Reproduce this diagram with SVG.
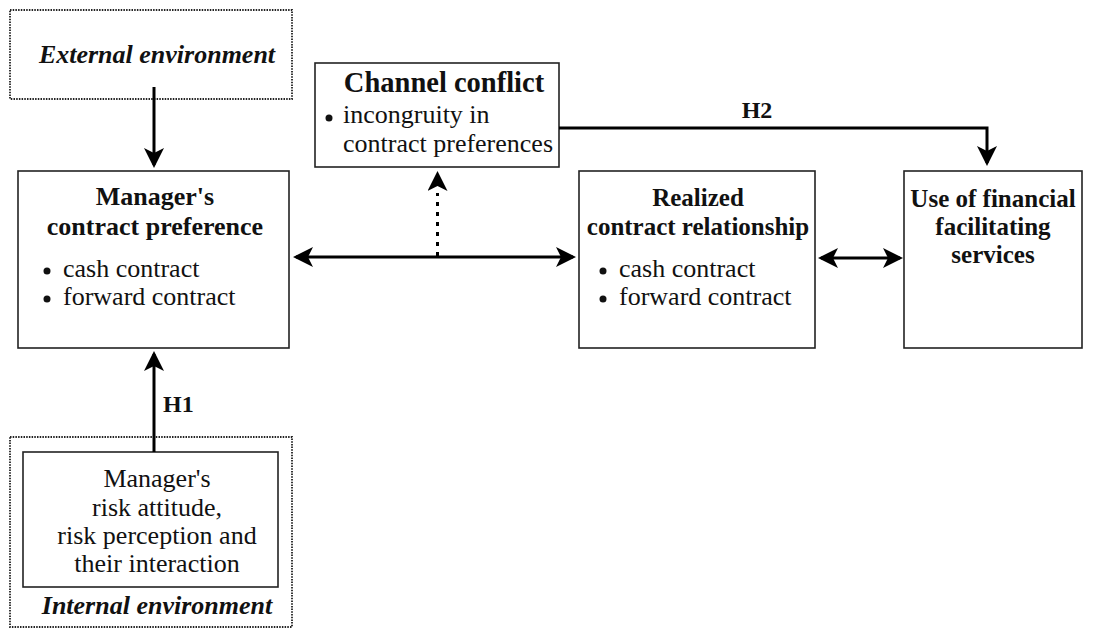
<svg xmlns="http://www.w3.org/2000/svg" width="1109" height="628" viewBox="0 0 1109 628">
<style>
.box{fill:#fff;stroke:#222;stroke-width:1.6}
.dot{fill:none;stroke:#222;stroke-width:1.8;stroke-dasharray:1.5 1.2}
.bt{font-family:"Liberation Serif","Times New Roman",serif;font-weight:bold;font-size:25px;fill:#111;text-anchor:middle}
.rt{font-family:"Liberation Serif","Times New Roman",serif;font-size:26px;fill:#111}
.env{font-family:"Liberation Serif","Times New Roman",serif;font-weight:bold;font-style:italic;font-size:26px;fill:#111;text-anchor:middle}
.lbl{font-family:"Liberation Serif","Times New Roman",serif;font-weight:bold;font-size:24px;fill:#111}
.con{fill:none;stroke:#000;stroke-width:3}
</style>
<defs>
<marker id="ah" viewBox="0 0 20 20" refX="17" refY="10" markerWidth="20" markerHeight="20" markerUnits="userSpaceOnUse" orient="auto-start-reverse">
<path d="M0,0 L20,10 L0,20 L5,10 z" fill="#000"/>
</marker>
</defs>

<g id="external">
<rect class="dot" x="10" y="10" width="282" height="89"/>
<text class="env" x="157" y="63">External environment</text>
</g>

<g id="manager-pref">
<rect class="box" x="18" y="171" width="271" height="177"/>
<text class="bt" x="155" y="205" style="font-size:26px">Manager's</text>
<text class="bt" x="155" y="235" style="font-size:26px">contract preference</text>
<circle cx="47" cy="271" r="3.5" fill="#111"/>
<text class="rt" x="63" y="277">cash contract</text>
<circle cx="47" cy="299" r="3.5" fill="#111"/>
<text class="rt" x="63" y="305">forward contract</text>
</g>

<g id="channel-conflict">
<rect class="box" x="315" y="63" width="244" height="104"/>
<text class="bt" x="444" y="92" style="font-size:28.5px">Channel conflict</text>
<circle cx="329" cy="118" r="3.5" fill="#111"/>
<text class="rt" x="343" y="123">incongruity in</text>
<text class="rt" x="343" y="152">contract preferences</text>
</g>

<g id="realized">
<rect class="box" x="579" y="171" width="236" height="177"/>
<text class="bt" x="698" y="206">Realized</text>
<text class="bt" x="698" y="235">contract relationship</text>
<circle cx="603" cy="271" r="3.5" fill="#111"/>
<text class="rt" x="619" y="277">cash contract</text>
<circle cx="603" cy="299" r="3.5" fill="#111"/>
<text class="rt" x="619" y="305">forward contract</text>
</g>

<g id="financial">
<rect class="box" x="904" y="171" width="178" height="177"/>
<text class="bt" x="993" y="207">Use of financial</text>
<text class="bt" x="993" y="235">facilitating</text>
<text class="bt" x="993" y="263">services</text>
</g>

<g id="internal">
<rect class="dot" x="10" y="437" width="282" height="190"/>
<rect class="box" x="23" y="452" width="255" height="135"/>
<text class="rt" x="157" y="487" text-anchor="middle">Manager's</text>
<text class="rt" x="157" y="516" text-anchor="middle">risk attitude,</text>
<text class="rt" x="157" y="544" text-anchor="middle">risk perception and</text>
<text class="rt" x="157" y="572" text-anchor="middle">their interaction</text>
<text class="env" x="157" y="614">Internal environment</text>
</g>

<g id="connectors">
<line class="con" x1="154" y1="87" x2="154" y2="165" marker-end="url(#ah)"/>
<line class="con" x1="154" y1="452" x2="154" y2="354" marker-end="url(#ah)"/>
<line class="con" x1="296" y1="257" x2="573" y2="257" marker-start="url(#ah)" marker-end="url(#ah)"/>
<line class="con" x1="437.5" y1="256" x2="437.5" y2="193" stroke-dasharray="4 6"/>
<line class="con" x1="437.5" y1="176" x2="437.5" y2="174" marker-end="url(#ah)"/>
<path class="con" d="M559,128 H987 V163" marker-end="url(#ah)"/>
<line class="con" x1="821" y1="258" x2="900" y2="258" marker-start="url(#ah)" marker-end="url(#ah)"/>
<text class="lbl" x="757" y="118" text-anchor="middle">H2</text>
<text class="lbl" x="163" y="412">H1</text>
</g>
</svg>
